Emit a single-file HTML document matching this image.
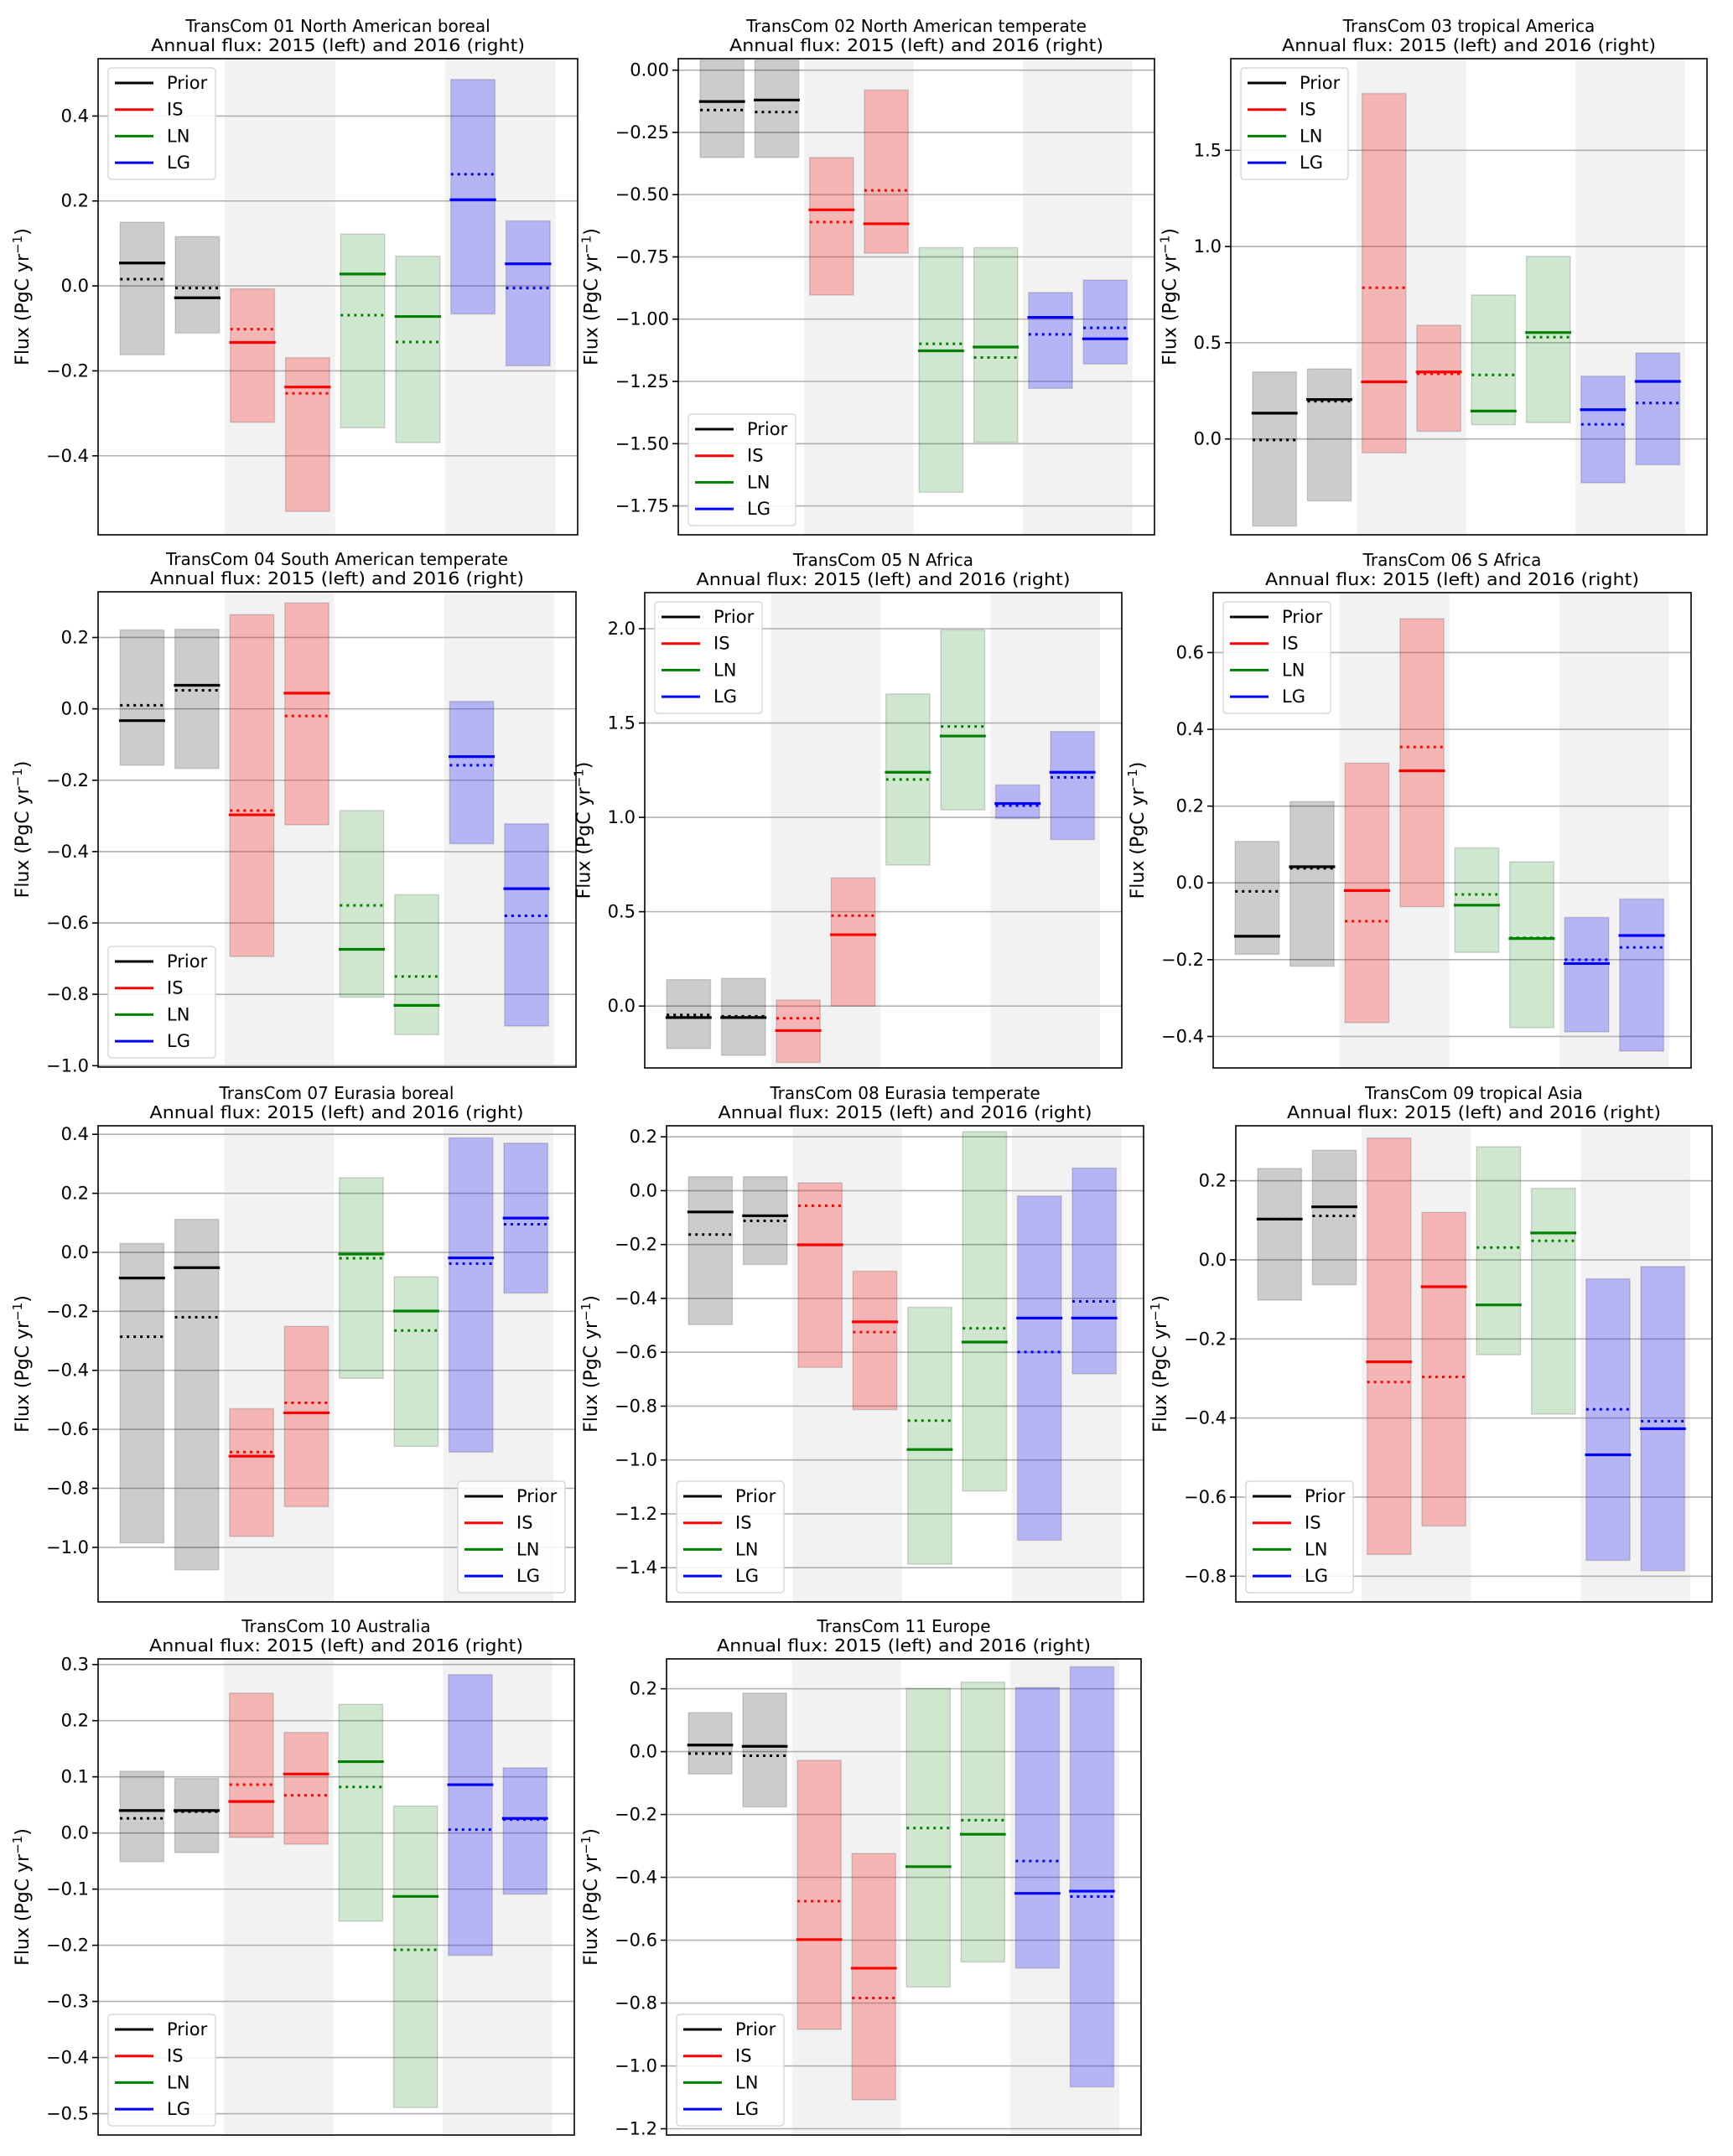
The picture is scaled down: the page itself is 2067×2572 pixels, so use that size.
<!DOCTYPE html>
<html><head><meta charset="utf-8"><title>TransCom annual flux</title>
<style>html,body{margin:0;padding:0;background:#fff}svg{display:block}</style>
</head><body>
<svg id="fig" xmlns="http://www.w3.org/2000/svg" width="2067" height="2572" viewBox="0 0 2067 2572"></svg>
<script>
const titles = ["TransCom 01 North American boreal","TransCom 02 North American temperate","TransCom 03  tropical America","TransCom 04 South American temperate","TransCom 05 N Africa","TransCom 06 S Africa","TransCom 07 Eurasia boreal","TransCom 08 Eurasia temperate","TransCom 09  tropical Asia","TransCom 10 Australia","TransCom 11 Europe"];
const seriesNames = ["Prior","IS","LN","LG"];
// per panel, 8 boxes: Prior15, Prior16, IS15, IS16, LN15, LN16, LG15, LG16
const hiVals = [
 [0.150,0.116,-0.007,-0.169,0.122,0.070,0.486,0.153],
 [0.04,0.04,-0.351,-0.080,-0.713,-0.713,-0.893,-0.843],
 [0.348,0.364,1.795,0.591,0.748,0.949,0.326,0.447],
 [0.221,0.223,0.264,0.297,-0.285,-0.521,0.021,-0.322],
 [0.140,0.146,0.032,0.679,1.654,1.993,1.172,1.455],
 [0.108,0.212,0.312,0.688,0.091,0.055,-0.090,-0.042],
 [0.030,0.112,-0.530,-0.251,0.253,-0.083,0.388,0.370],
 [0.052,0.052,0.029,-0.299,-0.433,0.219,-0.020,0.084],
 [0.231,0.277,0.308,0.120,0.286,0.181,-0.048,-0.017],
 [0.110,0.097,0.249,0.179,0.229,0.048,0.282,0.116],
 [0.124,0.186,-0.028,-0.324,0.201,0.221,0.204,0.270]
];
const loVals = [
 [-0.162,-0.111,-0.321,-0.531,-0.334,-0.369,-0.066,-0.188],
 [-0.351,-0.351,-0.903,-0.735,-1.695,-1.494,-1.278,-1.180],
 [-0.453,-0.322,-0.072,0.040,0.074,0.085,-0.228,-0.134],
 [-0.158,-0.167,-0.694,-0.325,-0.808,-0.913,-0.378,-0.889],
 [-0.225,-0.261,-0.299,0.0,0.747,1.040,0.994,0.882],
 [-0.186,-0.217,-0.364,-0.062,-0.181,-0.377,-0.388,-0.438],
 [-0.985,-1.076,-0.963,-0.862,-0.427,-0.658,-0.677,-0.138],
 [-0.497,-0.274,-0.656,-0.813,-1.387,-1.115,-1.298,-0.680],
 [-0.102,-0.063,-0.745,-0.673,-0.240,-0.390,-0.760,-0.786],
 [-0.051,-0.035,-0.008,-0.020,-0.157,-0.489,-0.218,-0.109],
 [-0.071,-0.176,-0.884,-1.108,-0.749,-0.669,-0.689,-1.067]
];
const meanVals = [
 [0.054,-0.028,-0.133,-0.238,0.028,-0.072,0.203,0.052],
 [-0.126,-0.120,-0.561,-0.617,-1.127,-1.112,-0.993,-1.079],
 [0.134,0.205,0.297,0.348,0.145,0.553,0.152,0.299],
 [-0.033,0.066,-0.297,0.044,-0.674,-0.831,-0.134,-0.504],
 [-0.061,-0.061,-0.130,0.378,1.239,1.431,1.073,1.239],
 [-0.139,0.042,-0.020,0.292,-0.058,-0.145,-0.210,-0.137],
 [-0.087,-0.052,-0.691,-0.544,-0.006,-0.199,-0.019,0.116],
 [-0.079,-0.093,-0.201,-0.487,-0.961,-0.562,-0.473,-0.473],
 [0.103,0.134,-0.258,-0.068,-0.114,0.068,-0.493,-0.427],
 [0.040,0.040,0.056,0.105,0.127,-0.113,0.086,0.026],
 [0.021,0.017,-0.598,-0.689,-0.366,-0.263,-0.451,-0.444]
];
const dotVals = [
 [0.016,-0.005,-0.102,-0.253,-0.069,-0.132,0.263,-0.005],
 [-0.160,-0.168,-0.610,-0.483,-1.099,-1.154,-1.061,-1.035],
 [-0.005,0.196,0.786,0.339,0.333,0.529,0.076,0.187],
 [0.010,0.052,-0.285,-0.020,-0.551,-0.750,-0.158,-0.580],
 [-0.047,-0.054,-0.065,0.479,1.201,1.482,1.062,1.212],
 [-0.022,0.038,-0.100,0.354,-0.030,-0.143,-0.200,-0.168],
 [-0.286,-0.220,-0.677,-0.510,-0.020,-0.265,-0.038,0.095],
 [-0.163,-0.112,-0.056,-0.525,-0.854,-0.511,-0.599,-0.411],
 [0.103,0.111,-0.309,-0.296,0.031,0.048,-0.378,-0.408],
 [0.026,0.038,0.086,0.067,0.082,-0.208,0.006,0.024],
 [-0.006,-0.013,-0.476,-0.784,-0.243,-0.218,-0.348,-0.461]
];
const yLims = [[-0.586,0.535],[-1.866,0.046],[-0.498,1.976],[-1.004,0.328],[-0.328,2.191],[-0.482,0.756],[-1.185,0.429],[-1.527,0.241],[-0.865,0.339],[-0.538,0.310],[-1.220,0.295]];
const yTicks = [
 [-0.4,-0.2,0.0,0.2,0.4],
 [-1.75,-1.5,-1.25,-1.0,-0.75,-0.5,-0.25,0.0],
 [0.0,0.5,1.0,1.5],
 [-1.0,-0.8,-0.6,-0.4,-0.2,0.0,0.2],
 [0.0,0.5,1.0,1.5,2.0],
 [-0.4,-0.2,0.0,0.2,0.4,0.6],
 [-1.0,-0.8,-0.6,-0.4,-0.2,0.0,0.2,0.4],
 [-1.4,-1.2,-1.0,-0.8,-0.6,-0.4,-0.2,0.0,0.2],
 [-0.8,-0.6,-0.4,-0.2,0.0,0.2],
 [-0.5,-0.4,-0.3,-0.2,-0.1,0.0,0.1,0.2,0.3],
 [-1.2,-1.0,-0.8,-0.6,-0.4,-0.2,0.0,0.2]
];
const tickDecimals = [1,2,1,1,1,1,1,1,1,1,1];
const legendLoc = ["ul","ll","ul","ll","ul","ul","lr","ll","ll","ll","ll"];

// layout (pixel geometry, not data)
const axesBox = [
 [117,70,689,638],[809,70,1377,638],[1468,70,2036,638],
 [117,706,687,1273],[769,707,1338,1274],[1447,707,2017,1274],
 [117,1343,686,1911],[795,1343,1364,1911],[1474,1343,2042,1911],
 [117,1979,685,2547],[795,1979,1361,2547]
];
const lineCol = ["#000000","#ff0000","#008000","#0000ff"];
const fillCol = ["rgba(0,0,0,0.2)","rgba(255,0,0,0.25)","rgba(0,128,0,0.19)","rgba(0,0,255,0.25)"];
const XMIN=-0.8, XMAX=7.9;
const NS="http://www.w3.org/2000/svg";
const svg=document.getElementById('fig');
const FONT='"DejaVu Sans","Liberation Sans",sans-serif';
const TICKFS=21;
function mk(tag,attrs,parent){const e=document.createElementNS(NS,tag);for(const k in attrs)e.setAttribute(k,attrs[k]);(parent||svg).appendChild(e);return e;}
function fmt(v,d){let s=Math.abs(v).toFixed(d);return (v<-1e-9?'\u2212':'')+s;}
function estW(s){let w=0;for(const c of s){w+= c==='.'?0.318:(c==='\u2212'?0.838:0.636);}return w*TICKFS;}

for(let p=0;p<titles.length;p++){
  const [L,T,R,B]=axesBox[p];
  const [y0,y1]=yLims[p];
  const sx=v=>L+(v-XMIN)/(XMAX-XMIN)*(R-L);
  const sy=v=>B-(v-y0)/(y1-y0)*(B-T);
  const g=mk('g',{});
  
  
  const clipId='c'+p;
  const cp=mk('clipPath',{id:clipId},g); mk('rect',{x:L,y:T,width:R-L,height:B-T},cp);
  const plot=mk('g',{'clip-path':'url(#'+clipId+')'},g);
  [[1.5,3.5],[5.5,7.5]].forEach((b,i)=>{
    const r=mk('rect',{x:sx(b[0]),y:T,width:sx(b[1])-sx(b[0]),height:B-T,fill:'#f2f2f2'},plot);
    
    
  });
  yTicks[p].forEach(t=>{
    const l=mk('line',{x1:L,x2:R,y1:sy(t),y2:sy(t),stroke:'#b0b0b0','stroke-width':1.6},plot);
    
    
  });
  for(let j=0;j<8;j++){
    const s=Math.floor(j/2);
    const yT=sy(hiVals[p][j]), yB=sy(loVals[p][j]);
    const r=mk('rect',{x:sx(j-0.4),y:yT,width:sx(j+0.4)-sx(j-0.4),height:yB-yT,fill:fillCol[s],stroke:'rgba(0,0,0,0.15)','stroke-width':1.5},plot);
    
    
    const ym=sy(meanVals[p][j]);
    const m=mk('line',{x1:sx(j-0.42),x2:sx(j+0.42),y1:ym,y2:ym,stroke:lineCol[s],'stroke-width':3.2},plot);
    
    
    const yd=sy(dotVals[p][j]);
    const d=mk('line',{x1:sx(j-0.4),x2:sx(j+0.4),y1:yd,y2:yd,stroke:lineCol[s],'stroke-width':3,'stroke-dasharray':'3 5'},plot);
    
    
  }
  const fr=mk('rect',{x:L,y:T,width:R-L,height:B-T,fill:'none',stroke:'#000','stroke-width':1.6},g);
  
  
  let maxW=0;
  yTicks[p].forEach(t=>{
    const yy=sy(t);
    const tk=mk('line',{x1:L-7,x2:L,y1:yy,y2:yy,stroke:'#000','stroke-width':1.6},g);
    
    
    const lbl=fmt(t,tickDecimals[p]);
    maxW=Math.max(maxW,estW(lbl));
    const tx=mk('text',{x:L-11,y:yy+7,'text-anchor':'end','font-family':FONT,'font-size':TICKFS,fill:'#000'},g);
    tx.textContent=lbl;
    
    
  });
  const cy=(T+B)/2, lx=L-11-maxW-21;
  const yl=mk('text',{x:lx,y:cy,transform:'rotate(-90 '+lx+' '+cy+')','text-anchor':'middle','font-family':FONT,'font-size':22,fill:'#000'},g);
  yl.innerHTML='Flux (PgC yr<tspan dy="-8" font-size="15">\u22121</tspan><tspan dy="8">)</tspan>';
  
  
  const cx=(L+R)/2;
  const t1=mk('text',{x:cx,y:T-32,'text-anchor':'middle','font-family':FONT,'font-size':20,fill:'#000'},g);
  t1.textContent=titles[p];
  
  
  const t2=mk('text',{x:cx,y:T-9,'text-anchor':'middle','font-family':FONT,'font-size':20,fill:'#000',textLength:446,lengthAdjust:'spacingAndGlyphs'},g);
  t2.textContent='Annual flux: 2015 (left) and 2016 (right)';
  
  
  const lw=128, lh=133;
  let lgx, lgy;
  const loc=legendLoc[p];
  lgx = loc==='lr' ? R-12-lw : L+12;
  lgy = loc==='ul' ? T+11 : B-11-lh;
  const lg=mk('g',{},g);
  
  
  mk('rect',{x:lgx,y:lgy,width:lw,height:lh,rx:4,fill:'rgba(255,255,255,0.85)',stroke:'#d8d8d8','stroke-width':1.5},lg);
  seriesNames.forEach((nm,i)=>{
    const yy=lgy+18+i*31.7;
    const ll=mk('line',{x1:lgx+8,x2:lgx+54,y1:yy,y2:yy,stroke:lineCol[i],'stroke-width':3},lg);
    
    
    const lt=mk('text',{x:lgx+70,y:yy+7,'font-family':FONT,'font-size':21,fill:'#000'},lg);
    lt.textContent=nm;
    
    
  });
}
</script>
</body></html>
